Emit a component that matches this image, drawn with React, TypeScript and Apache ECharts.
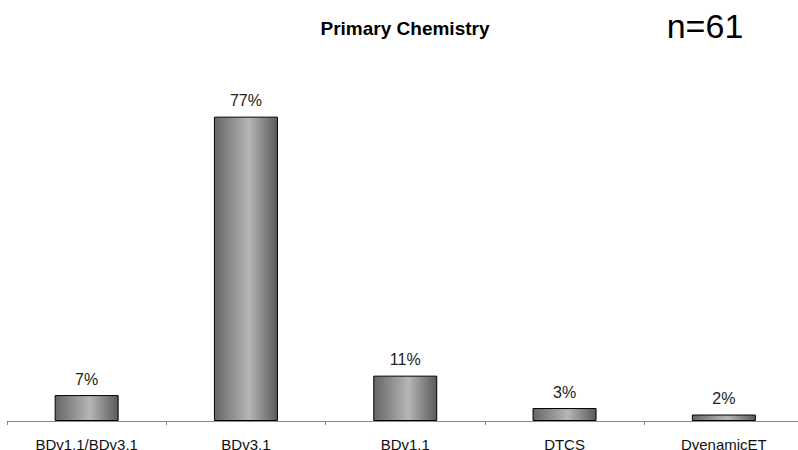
import React, { useEffect, useRef } from "react";
import * as echarts from "echarts";

// Share of each primary chemistry (percent of n=61)
const categories = ["BDv1.1/BDv3.1", "BDv3.1", "BDv1.1", "DTCS", "DyenamicET"];
const shares = [6.56, 77.05, 11.48, 3.28, 1.64];
const titleText = "Primary Chemistry";
const sampleText = "n=61";

export default function App() {
  const ref = useRef<HTMLDivElement>(null);

  useEffect(() => {
    if (!ref.current) return;
    const chart = echarts.init(ref.current, undefined, { renderer: "svg" });
    const font = "Liberation Sans, Arial, sans-serif";
    chart.setOption({
      animation: false,
      backgroundColor: "#ffffff",
      textStyle: { fontFamily: font },
      graphic: [
        {
          type: "text",
          x: 405,
          y: 28,
          style: {
            text: titleText,
            font: `bold 19px ${font}`,
            fill: "#000",
            align: "center",
            verticalAlign: "middle",
          },
        },
        {
          type: "text",
          x: 705,
          y: 26,
          style: {
            text: sampleText,
            font: `34px ${font}`,
            fill: "#000",
            align: "center",
            verticalAlign: "middle",
          },
        },
      ],
      // the plot runs slightly past the right edge of the visible frame
      grid: {
        left: 7,
        top: 105,
        width: 796.5,
        bottom: 29,
        containLabel: false,
        outerBoundsMode: "none",
      },
      xAxis: {
        type: "category",
        data: categories,
        axisLine: { show: true, lineStyle: { color: "#888", width: 1 } },
        axisTick: { show: true, length: 4, lineStyle: { color: "#888" } },
        axisLabel: {
          color: "#111",
          fontSize: 15,
          fontFamily: font,
          margin: 16,
          interval: 0,
        },
      },
      yAxis: {
        type: "value",
        min: 0,
        max: 80,
        show: false,
        splitLine: { show: false },
      },
      series: [
        {
          type: "bar",
          data: shares,
          barWidth: 64,
          itemStyle: {
            borderColor: "#000",
            borderWidth: 1,
            color: new echarts.graphic.LinearGradient(0, 0, 1, 0, [
              { offset: 0, color: "#666666" },
              { offset: 0.55, color: "#b6b6b6" },
              { offset: 1, color: "#5a5a5a" },
            ]),
          },
          label: {
            show: true,
            position: "top",
            distance: 8,
            color: "#222",
            fontSize: 16,
            fontFamily: font,
            formatter: (p: any) => `${Math.round(p.value)}%`,
          },
        },
      ],
    });
    return () => chart.dispose();
  }, []);

  return (
    <div
      style={{
        position: "fixed",
        left: 0,
        top: 0,
        width: 798,
        height: 450,
        overflow: "hidden",
        background: "#fff",
      }}
    >
      <div ref={ref} style={{ width: 812, height: 450 }} />
    </div>
  );
}
